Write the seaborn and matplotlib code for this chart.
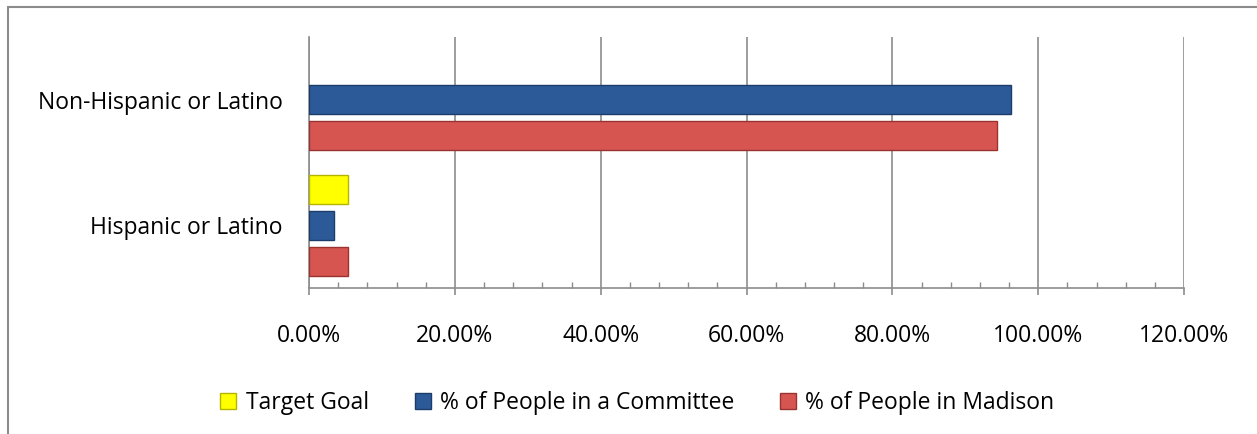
import numpy as np
import matplotlib
matplotlib.use('Agg')
import matplotlib.pyplot as plt
from matplotlib.lines import Line2D
from matplotlib.ticker import MultipleLocator, FuncFormatter
import pandas as pd
import seaborn as sns

# Data
categories = ['Non-Hispanic or Latino', 'Hispanic or Latino']
series = ['Target Goal', '% of People in a Committee', '% of People in Madison']
target_goal = [0.0, 5.4]
committee = [96.3, 3.4]
madison = [94.4, 5.3]
colors = ['#FFFF00', '#2C5A99', '#D65551']
edge_colors = ['#B5B500', '#1C3C6A', '#9A3330']

df = pd.DataFrame({
    'Group': categories * 3,
    'Series': [series[0]] * 2 + [series[1]] * 2 + [series[2]] * 2,
    'Value': target_goal + committee + madison,
})

sns.set_style('white')
plt.rcParams['font.family'] = ['Open Sans', 'DejaVu Sans']
plt.rcParams['text.color'] = 'black'
plt.rcParams['xtick.labelcolor'] = 'black'
plt.rcParams['ytick.labelcolor'] = 'black'

fig = plt.figure(figsize=(12.57, 4.34), dpi=100)
ax = fig.add_axes([309 / 1257, 1 - 288 / 434, (1184 - 309) / 1257, (288 - 37) / 434])

sns.barplot(data=df, x='Value', y='Group', hue='Series', order=categories,
            hue_order=series, palette=colors, saturation=1, orient='h', width=0.86,
            gap=0.2, ax=ax, legend=False, zorder=3)

for i, cont in enumerate(ax.containers):
    for bar in cont:
        bar.set_edgecolor(edge_colors[i])
        bar.set_linewidth(1.0 if bar.get_width() > 0 else 0)

ax.set_xlim(0, 120)
ax.xaxis.set_major_locator(MultipleLocator(20))
ax.xaxis.set_minor_locator(MultipleLocator(4))
ax.xaxis.set_major_formatter(FuncFormatter(lambda v, p: f'{v:.2f}%'))
ax.grid(axis='x', which='major', color='#8C8C8C', linewidth=1.2, zorder=0)
ax.set_axisbelow(True)

ax.set_xlabel('')
ax.set_ylabel('')
for side in ['top', 'right']:
    ax.spines[side].set_visible(False)
for side in ['left', 'bottom']:
    ax.spines[side].set_color('#8C8C8C')
    ax.spines[side].set_linewidth(1.2)

ax.tick_params(axis='x', which='major', direction='out', length=5, width=1.2,
               color='#8C8C8C', bottom=True, pad=21, labelsize=16.5)
ax.tick_params(axis='x', which='minor', direction='in', length=4, width=1.0,
               color='#8C8C8C', bottom=True)
ax.tick_params(axis='y', length=0, pad=19, labelsize=16.5)

# outer chart frame
fig.add_artist(Line2D([8 / 1257, 8 / 1257], [0, 1 - 7 / 434], color='#8C8C8C', lw=1.5))
fig.add_artist(Line2D([8 / 1257, 1], [1 - 7 / 434, 1 - 7 / 434], color='#8C8C8C', lw=1.5))

handles = [plt.Rectangle((0, 0), 1, 1, facecolor=c, edgecolor=e, lw=1.0)
           for c, e in zip(colors, edge_colors)]
fig.legend(handles, series, loc='center', bbox_to_anchor=(0.507, 1 - 403 / 434),
           ncol=3, frameon=False, fontsize=16.5, handlelength=0.7, handleheight=0.7,
           handletextpad=0.4, columnspacing=2.0)

fig.savefig('out.png', dpi=100)
